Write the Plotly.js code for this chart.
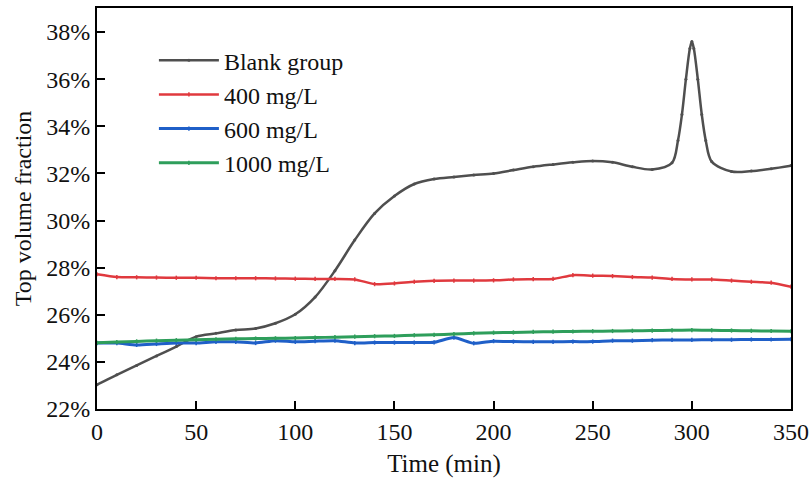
<!DOCTYPE html>
<html>
<head>
<meta charset="utf-8">
<script src="https://cdn.plot.ly/plotly-3.0.1.min.js"></script>
<style>html,body{margin:0;padding:0;background:#fff}#chart{width:810px;height:489px}</style>
</head>
<body>
<div id="chart"></div>
<script>
// Time (min)
const timeBlank = [0,10,20,30,40,50,60,70,80,90,100,110,120,130,140,150,160,170,180,190,200,210,220,230,240,250,260,270,280,290,293,295,297,299,300,301,303,305,307,310,320,330,340,350];
const blankGroup = [23.03,23.45,23.85,24.25,24.65,25.07,25.21,25.35,25.42,25.64,26.02,26.75,27.87,29.17,30.3,31.04,31.55,31.76,31.85,31.93,32.0,32.14,32.28,32.38,32.47,32.53,32.47,32.28,32.17,32.45,33.4,34.5,36.0,37.3,37.6,37.3,36.0,34.5,33.4,32.5,32.08,32.1,32.2,32.33];

const timeDose = [0,10,20,30,40,50,60,70,80,90,100,110,120,130,140,150,160,170,180,190,200,210,220,230,240,250,260,270,280,290,300,310,320,330,340,350];
const mg400 = [27.72,27.6,27.59,27.58,27.57,27.57,27.55,27.55,27.55,27.54,27.53,27.52,27.52,27.5,27.3,27.33,27.4,27.44,27.45,27.45,27.46,27.5,27.51,27.52,27.68,27.66,27.64,27.6,27.58,27.52,27.5,27.5,27.45,27.4,27.36,27.19];
const mg600 = [24.8,24.8,24.72,24.76,24.8,24.8,24.85,24.85,24.8,24.9,24.85,24.88,24.9,24.8,24.82,24.82,24.82,24.83,25.03,24.79,24.88,24.86,24.85,24.85,24.86,24.86,24.9,24.9,24.92,24.93,24.93,24.94,24.94,24.95,24.95,24.96];
const mg1000 = [24.81,24.84,24.87,24.9,24.92,24.94,24.96,24.98,24.99,25.0,25.01,25.03,25.05,25.07,25.09,25.1,25.13,25.15,25.18,25.21,25.24,25.25,25.27,25.28,25.29,25.3,25.31,25.32,25.33,25.34,25.35,25.34,25.33,25.32,25.31,25.3];

const seriesNames = ['Blank group','400 mg/L','600 mg/L','1000 mg/L'];
const seriesColors = ['#4f4f4f','#e0393e','#1f5fc8','#2e9e5b'];

const xTicks = [0,50,100,150,200,250,300,350];
const yTicks = [22,24,26,28,30,32,34,36,38];
const yTickText = yTicks.map(v => v + '%');

const font = '"Liberation Serif", "Times New Roman", serif';

const traces = [
  {x: timeBlank, y: blankGroup, name: seriesNames[0], mode:'lines+markers', line:{color:seriesColors[0], width:2.5, shape:'spline', smoothing:0.9}, marker:{size:3, color:seriesColors[0]}},
  {x: timeDose, y: mg400, name: seriesNames[1], mode:'lines+markers', line:{color:seriesColors[1], width:2.5, shape:'spline', smoothing:0.6}, marker:{size:3, symbol:'line-ns-open', color:seriesColors[1], line:{width:1.5, color:seriesColors[1]}}},
  {x: timeDose, y: mg600, name: seriesNames[2], mode:'lines+markers', line:{color:seriesColors[2], width:3, shape:'spline', smoothing:0.6}, marker:{size:3, symbol:'line-ns-open', color:seriesColors[2], line:{width:1.5, color:seriesColors[2]}}},
  {x: timeDose, y: mg1000, name: seriesNames[3], mode:'lines+markers', line:{color:seriesColors[3], width:3, shape:'spline', smoothing:0.6}, marker:{size:3, symbol:'line-ns-open', color:seriesColors[3], line:{width:1.5, color:seriesColors[3]}}}
];

const layout = {
  width: 810, height: 489,
  margin: {l:97, r:19, t:8, b:80},
  paper_bgcolor:'#fff', plot_bgcolor:'#fff',
  font: {family: font, size: 24, color:'#111'},
  showlegend: true,
  legend: {x:0.082, y:0.925, xanchor:'left', yanchor:'top', bgcolor:'rgba(0,0,0,0)', font:{family:font, size:24, color:'#111'}, tracegroupgap:0, itemwidth:60},
  xaxis: {
    range:[0,350], tickmode:'array', tickvals:xTicks,
    ticks:'inside', ticklen:8, tickwidth:2, tickcolor:'#000',
    showline:true, linecolor:'#000', linewidth:2, mirror:true,
    showgrid:false, zeroline:false, automargin:false,
    tickfont:{family:font, size:24, color:'#111'},
    title:{text:'Time (min)', font:{family:font, size:25, color:'#111'}, standoff:11}
  },
  yaxis: {
    range:[22,39.02], tickmode:'array', tickvals:yTicks, ticktext:yTickText,
    ticks:'inside', ticklen:8, tickwidth:2, tickcolor:'#000',
    showline:true, linecolor:'#000', linewidth:2, mirror:true,
    showgrid:false, zeroline:false, automargin:false,
    tickfont:{family:font, size:24, color:'#111'},
    title:{text:'Top volume fraction', font:{family:font, size:24, color:'#111'}, standoff:8}
  }
};

Plotly.newPlot('chart', traces, layout, {displayModeBar:false, staticPlot:true});
</script>
</body>
</html>
